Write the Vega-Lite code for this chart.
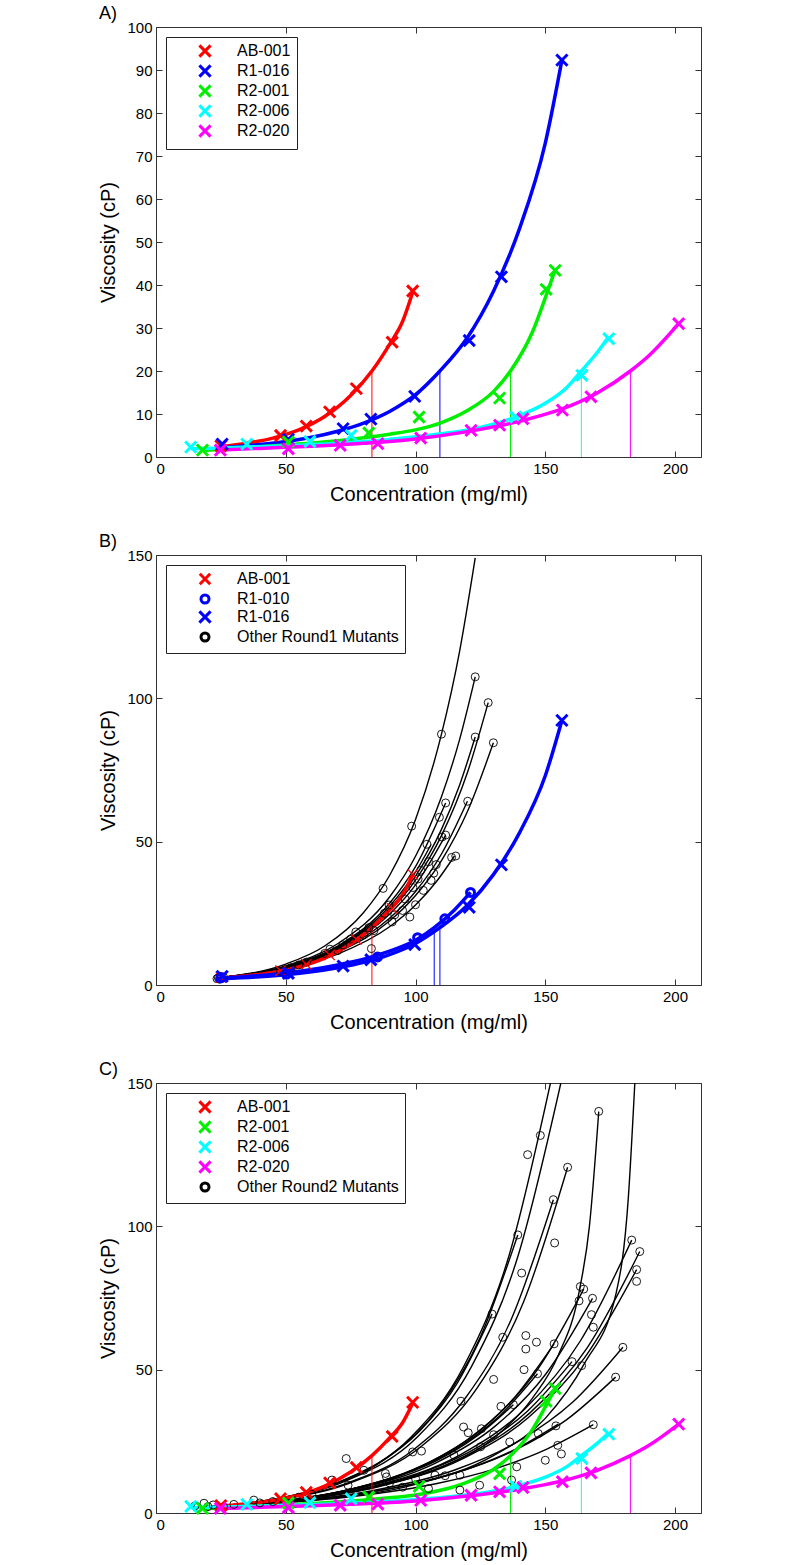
{
"$schema": "https://vega.github.io/schema/vega-lite/v6.json",
"background": "white",
"padding": {"left": 98, "top": 4, "right": 10, "bottom": 5},
"spacing": 27,
"resolve": {"scale": {"color": "independent", "stroke": "independent", "shape": "independent"}, "legend": {"color": "independent", "stroke": "independent", "shape": "independent"}},
"datasets": {
"fits": [
{"s":"AB-001","x":25,"v":2.4},{"s":"AB-001","x":35,"v":3.2},{"s":"AB-001","x":45,"v":4.4},{"s":"AB-001","x":55,"v":6.3},{"s":"AB-001","x":65,"v":9.4},{"s":"AB-001","x":75,"v":14.3},{"s":"AB-001","x":83.2,"v":20},{"s":"AB-001","x":90,"v":26.2},{"s":"AB-001","x":95,"v":31.5},{"s":"AB-001","x":99,"v":38.5},
{"s":"R1-016","x":25,"v":2.2},{"s":"R1-016","x":40,"v":2.9},{"s":"R1-016","x":50,"v":3.6},{"s":"R1-016","x":60,"v":4.6},{"s":"R1-016","x":70,"v":6},{"s":"R1-016","x":80,"v":7.9},{"s":"R1-016","x":90,"v":10.6},{"s":"R1-016","x":100,"v":14.5},{"s":"R1-016","x":109.4,"v":20},{"s":"R1-016","x":120,"v":27.8},{"s":"R1-016","x":130,"v":38.5},{"s":"R1-016","x":140,"v":53},{"s":"R1-016","x":150,"v":73},{"s":"R1-016","x":156.4,"v":92.3},
{"s":"R1-010","x":25,"v":2.3},{"s":"R1-010","x":40,"v":3.3},{"s":"R1-010","x":50,"v":4.2},{"s":"R1-010","x":60,"v":5.4},{"s":"R1-010","x":70,"v":7},{"s":"R1-010","x":80,"v":9},{"s":"R1-010","x":90,"v":11.8},{"s":"R1-010","x":100,"v":15.6},{"s":"R1-010","x":107.2,"v":20},{"s":"R1-010","x":115,"v":26.2},{"s":"R1-010","x":121.2,"v":32.3},
{"s":"R2-001","x":18,"v":1.5},{"s":"R2-001","x":30,"v":2},{"s":"R2-001","x":50,"v":2.8},{"s":"R2-001","x":70,"v":3.8},{"s":"R2-001","x":90,"v":5.3},{"s":"R2-001","x":100,"v":6.3},{"s":"R2-001","x":110,"v":8},{"s":"R2-001","x":120,"v":10.8},{"s":"R2-001","x":130,"v":15.2},{"s":"R2-001","x":136.6,"v":20},{"s":"R2-001","x":145,"v":29},{"s":"R2-001","x":150,"v":37},{"s":"R2-001","x":153.8,"v":43.5},
{"s":"R2-006","x":13.4,"v":1.9},{"s":"R2-006","x":30,"v":2.2},{"s":"R2-006","x":50,"v":2.6},{"s":"R2-006","x":70,"v":3.2},{"s":"R2-006","x":90,"v":4.1},{"s":"R2-006","x":110,"v":5.4},{"s":"R2-006","x":125,"v":6.9},{"s":"R2-006","x":138.6,"v":9.3},{"s":"R2-006","x":150,"v":12.5},{"s":"R2-006","x":158,"v":16},{"s":"R2-006","x":163.9,"v":20},{"s":"R2-006","x":170,"v":24.3},{"s":"R2-006","x":174.5,"v":28},
{"s":"R2-020","x":25,"v":1.6},{"s":"R2-020","x":40,"v":2},{"s":"R2-020","x":60,"v":2.5},{"s":"R2-020","x":80,"v":3.2},{"s":"R2-020","x":100,"v":4.2},{"s":"R2-020","x":120,"v":5.9},{"s":"R2-020","x":140,"v":8.3},{"s":"R2-020","x":160,"v":12},{"s":"R2-020","x":170,"v":14.9},{"s":"R2-020","x":182.8,"v":20},{"s":"R2-020","x":190,"v":23.6},{"s":"R2-020","x":201.4,"v":31}
],
"cross": [
{"s":"AB-001","x":83.2},{"s":"R1-016","x":109.4},{"s":"R1-010","x":107.2},{"s":"R2-001","x":136.6},{"s":"R2-006","x":163.9},{"s":"R2-020","x":182.8}
],
"pts": [
{"s":"Other Round1 Mutants","x":24,"v":2.5},{"s":"Other Round1 Mutants","x":25,"v":3},{"s":"Other Round1 Mutants","x":23.5,"v":2.2},{"s":"Other Round1 Mutants","x":26,"v":2.8},{"s":"Other Round1 Mutants","x":24.5,"v":2},
{"s":"Other Round1 Mutants","x":50,"v":5.5},{"s":"Other Round1 Mutants","x":52,"v":6},{"s":"Other Round1 Mutants","x":48,"v":4.8},{"s":"Other Round1 Mutants","x":55,"v":7},{"s":"Other Round1 Mutants","x":58,"v":8},
{"s":"Other Round1 Mutants","x":65,"v":11},{"s":"Other Round1 Mutants","x":67,"v":12.5},{"s":"Other Round1 Mutants","x":70,"v":12},{"s":"Other Round1 Mutants","x":72,"v":14},{"s":"Other Round1 Mutants","x":75,"v":16},{"s":"Other Round1 Mutants","x":77,"v":18.5},{"s":"Other Round1 Mutants","x":80,"v":17.5},{"s":"Other Round1 Mutants","x":82,"v":20},{"s":"Other Round1 Mutants","x":83,"v":12.7},{"s":"Other Round1 Mutants","x":84,"v":19},
{"s":"Other Round1 Mutants","x":87.5,"v":33.7},{"s":"Other Round1 Mutants","x":89.8,"v":27.9},{"s":"Other Round1 Mutants","x":88,"v":25},{"s":"Other Round1 Mutants","x":91,"v":22},{"s":"Other Round1 Mutants","x":92,"v":24.5},{"s":"Other Round1 Mutants","x":95,"v":26},{"s":"Other Round1 Mutants","x":96,"v":30},{"s":"Other Round1 Mutants","x":97.8,"v":23.7},{"s":"Other Round1 Mutants","x":99,"v":34},{"s":"Other Round1 Mutants","x":100,"v":28},
{"s":"Other Round1 Mutants","x":101,"v":37},{"s":"Other Round1 Mutants","x":102,"v":40},{"s":"Other Round1 Mutants","x":103,"v":33},{"s":"Other Round1 Mutants","x":104.4,"v":49.1},{"s":"Other Round1 Mutants","x":105,"v":43},{"s":"Other Round1 Mutants","x":106,"v":36.5},{"s":"Other Round1 Mutants","x":107,"v":39},{"s":"Other Round1 Mutants","x":108,"v":42},{"s":"Other Round1 Mutants","x":98.5,"v":55.4},
{"s":"Other Round1 Mutants","x":109.2,"v":58.5},{"s":"Other Round1 Mutants","x":110.2,"v":51.6},{"s":"Other Round1 Mutants","x":111.6,"v":52.3},{"s":"Other Round1 Mutants","x":111.6,"v":63.5},{"s":"Other Round1 Mutants","x":113.9,"v":44.5},{"s":"Other Round1 Mutants","x":115.5,"v":45},{"s":"Other Round1 Mutants","x":120.1,"v":64.1},
{"s":"Other Round1 Mutants","x":110,"v":87.5},{"s":"Other Round1 Mutants","x":123,"v":107.5},{"s":"Other Round1 Mutants","x":128,"v":98.5},{"s":"Other Round1 Mutants","x":123,"v":86.5},{"s":"Other Round1 Mutants","x":130,"v":84.5},
{"s":"Other Round2 Mutants","x":170.6,"v":140.1},{"s":"Other Round2 Mutants","x":148.1,"v":131.7},{"s":"Other Round2 Mutants","x":143.2,"v":125},{"s":"Other Round2 Mutants","x":158.6,"v":120.6},{"s":"Other Round2 Mutants","x":153.1,"v":109.3},{"s":"Other Round2 Mutants","x":153.6,"v":94.2},{"s":"Other Round2 Mutants","x":139.4,"v":97},{"s":"Other Round2 Mutants","x":140.9,"v":83.7},{"s":"Other Round2 Mutants","x":183.3,"v":95.2},{"s":"Other Round2 Mutants","x":186.4,"v":91.2},{"s":"Other Round2 Mutants","x":185.2,"v":84.9},{"s":"Other Round2 Mutants","x":185.2,"v":80.8},{"s":"Other Round2 Mutants","x":163.5,"v":79},{"s":"Other Round2 Mutants","x":164.8,"v":78.1},
{"s":"Other Round2 Mutants","x":129.5,"v":69.4},{"s":"Other Round2 Mutants","x":133.6,"v":61.3},{"s":"Other Round2 Mutants","x":142.5,"v":61.9},{"s":"Other Round2 Mutants","x":146.6,"v":59.6},{"s":"Other Round2 Mutants","x":142.5,"v":57.2},{"s":"Other Round2 Mutants","x":153.4,"v":59},{"s":"Other Round2 Mutants","x":141.8,"v":50},{"s":"Other Round2 Mutants","x":147,"v":48.6},{"s":"Other Round2 Mutants","x":130.1,"v":46.6},{"s":"Other Round2 Mutants","x":160.3,"v":52.8},{"s":"Other Round2 Mutants","x":164,"v":51.4},{"s":"Other Round2 Mutants","x":163,"v":74},{"s":"Other Round2 Mutants","x":168.2,"v":74.9},{"s":"Other Round2 Mutants","x":167.8,"v":69.2},{"s":"Other Round2 Mutants","x":168.5,"v":64.8},{"s":"Other Round2 Mutants","x":179.9,"v":57.8},{"s":"Other Round2 Mutants","x":177.1,"v":47.4},
{"s":"Other Round2 Mutants","x":117.5,"v":39},{"s":"Other Round2 Mutants","x":132.9,"v":37.2},{"s":"Other Round2 Mutants","x":137.7,"v":37.8},{"s":"Other Round2 Mutants","x":118.5,"v":30},{"s":"Other Round2 Mutants","x":120.3,"v":28},{"s":"Other Round2 Mutants","x":125.4,"v":29.4},{"s":"Other Round2 Mutants","x":130.1,"v":27.3},{"s":"Other Round2 Mutants","x":147.3,"v":27.7},{"s":"Other Round2 Mutants","x":154.1,"v":30.4},{"s":"Other Round2 Mutants","x":168.5,"v":30.8},{"s":"Other Round2 Mutants","x":136.3,"v":24.8},{"s":"Other Round2 Mutants","x":154.8,"v":23.6},{"s":"Other Round2 Mutants","x":156.2,"v":20.6},{"s":"Other Round2 Mutants","x":150,"v":18.4},{"s":"Other Round2 Mutants","x":125.1,"v":23.1},{"s":"Other Round2 Mutants","x":114.8,"v":20.2},{"s":"Other Round2 Mutants","x":98.9,"v":21.3},{"s":"Other Round2 Mutants","x":102.3,"v":21.6},{"s":"Other Round2 Mutants","x":73.3,"v":19},{"s":"Other Round2 Mutants","x":80.1,"v":14.9},{"s":"Other Round2 Mutants","x":88.4,"v":13.8},{"s":"Other Round2 Mutants","x":88.8,"v":12.6},{"s":"Other Round2 Mutants","x":107.5,"v":13.2},{"s":"Other Round2 Mutants","x":111.4,"v":13},{"s":"Other Round2 Mutants","x":117.1,"v":13.2},{"s":"Other Round2 Mutants","x":124.7,"v":9.7},{"s":"Other Round2 Mutants","x":117.1,"v":8},{"s":"Other Round2 Mutants","x":137,"v":11.5},{"s":"Other Round2 Mutants","x":139,"v":16.1},{"s":"Other Round2 Mutants","x":67.8,"v":11.5},{"s":"Other Round2 Mutants","x":74,"v":9.7},{"s":"Other Round2 Mutants","x":37.7,"v":4.5},{"s":"Other Round2 Mutants","x":15,"v":2.5},{"s":"Other Round2 Mutants","x":18.5,"v":3.4},{"s":"Other Round2 Mutants","x":30,"v":3},{"s":"Other Round2 Mutants","x":22,"v":2.8},{"s":"Other Round2 Mutants","x":26,"v":2.2},{"s":"Other Round2 Mutants","x":45,"v":4},{"s":"Other Round2 Mutants","x":55,"v":5.5},{"s":"Other Round2 Mutants","x":60,"v":6.5},{"s":"Other Round2 Mutants","x":95,"v":9},{"s":"Other Round2 Mutants","x":105,"v":8.5},{"s":"Other Round2 Mutants","x":16,"v":2},{"s":"Other Round2 Mutants","x":20,"v":2.2},{"s":"Other Round2 Mutants","x":40,"v":3.5},{"s":"Other Round2 Mutants","x":90,"v":10.5},{"s":"Other Round2 Mutants","x":100,"v":12},
{"s":"AB-001","x":25,"v":2.6},{"s":"AB-001","x":48,"v":5},{"s":"AB-001","x":57.9,"v":7.2},{"s":"AB-001","x":66.9,"v":10.5},{"s":"AB-001","x":77.2,"v":15.9},{"s":"AB-001","x":91,"v":26.7},{"s":"AB-001","x":98.9,"v":38.6},
{"s":"R1-010","x":25,"v":2.5},{"s":"R1-010","x":50.3,"v":3.8},{"s":"R1-010","x":85.4,"v":9.8},{"s":"R1-010","x":100.8,"v":16.5},{"s":"R1-010","x":111.3,"v":23.1},{"s":"R1-010","x":121.2,"v":32.3},
{"s":"R1-016","x":25.5,"v":3},{"s":"R1-016","x":51,"v":4.1},{"s":"R1-016","x":72.1,"v":6.6},{"s":"R1-016","x":82.8,"v":8.8},{"s":"R1-016","x":99.7,"v":14.1},{"s":"R1-016","x":120.7,"v":27.1},{"s":"R1-016","x":133.1,"v":41.9},{"s":"R1-016","x":156.4,"v":92.3},
{"s":"R2-001","x":17.9,"v":1.6},{"s":"R2-001","x":51,"v":3.5},{"s":"R2-001","x":82,"v":5.6},{"s":"R2-001","x":101.4,"v":9.3},{"s":"R2-001","x":132.4,"v":13.7},{"s":"R2-001","x":150.3,"v":39},{"s":"R2-001","x":153.8,"v":43.4},
{"s":"R2-006","x":13.4,"v":2.3},{"s":"R2-006","x":35,"v":3},{"s":"R2-006","x":59.3,"v":3.6},{"s":"R2-006","x":75.2,"v":5},{"s":"R2-006","x":138.6,"v":9.3},{"s":"R2-006","x":164.1,"v":19},{"s":"R2-006","x":174.5,"v":27.5},
{"s":"R2-020","x":24.8,"v":1.6},{"s":"R2-020","x":51,"v":1.9},{"s":"R2-020","x":71,"v":2.7},{"s":"R2-020","x":85.5,"v":3.1},{"s":"R2-020","x":102,"v":4.4},{"s":"R2-020","x":121.4,"v":6.2},{"s":"R2-020","x":132.4,"v":7.4},{"s":"R2-020","x":141.4,"v":8.9},{"s":"R2-020","x":156.6,"v":10.9},{"s":"R2-020","x":167.6,"v":14},{"s":"R2-020","x":201.4,"v":31}
],
"r1": [
{"id":"b1","x":24,"v":2.5},{"id":"b1","x":50,"v":7.3},{"id":"b1","x":65,"v":13.6},{"id":"b1","x":80,"v":25.3},{"id":"b1","x":90,"v":38.2},{"id":"b1","x":100,"v":57.7},{"id":"b1","x":110,"v":87.5},{"id":"b1","x":117,"v":116.5},{"id":"b1","x":123,"v":149},
{"id":"b2","x":24,"v":2.5},{"id":"b2","x":50,"v":6.7},{"id":"b2","x":70,"v":14.4},{"id":"b2","x":90,"v":30.7},{"id":"b2","x":100,"v":44.9},{"id":"b2","x":110,"v":65.7},{"id":"b2","x":117,"v":85.7},{"id":"b2","x":123,"v":107.5},
{"id":"b3","x":24,"v":2.5},{"id":"b3","x":50,"v":6.3},{"id":"b3","x":70,"v":12.7},{"id":"b3","x":90,"v":25.7},{"id":"b3","x":100,"v":36.6},{"id":"b3","x":110,"v":52.1},{"id":"b3","x":120,"v":74.1},{"id":"b3","x":128,"v":98.5},
{"id":"b4","x":24,"v":2.5},{"id":"b4","x":50,"v":6.3},{"id":"b4","x":70,"v":13},{"id":"b4","x":90,"v":26.6},{"id":"b4","x":100,"v":38},{"id":"b4","x":110,"v":54.3},{"id":"b4","x":117,"v":69.8},{"id":"b4","x":123,"v":86.5},
{"id":"b5","x":24,"v":2.5},{"id":"b5","x":50,"v":5.9},{"id":"b5","x":70,"v":11.5},{"id":"b5","x":90,"v":22.3},{"id":"b5","x":100,"v":31.2},{"id":"b5","x":110,"v":43.4},{"id":"b5","x":120,"v":60.5},{"id":"b5","x":130,"v":84.5},
{"id":"b6","x":24,"v":2.5},{"id":"b6","x":50,"v":6},{"id":"b6","x":70,"v":11.8},{"id":"b6","x":90,"v":23.3},{"id":"b6","x":100,"v":32.6},{"id":"b6","x":110,"v":45.7},{"id":"b6","x":120,"v":64.1},
{"id":"b7","x":24,"v":2.5},{"id":"b7","x":50,"v":6.5},{"id":"b7","x":70,"v":13.6},{"id":"b7","x":90,"v":28.5},{"id":"b7","x":100,"v":41.3},{"id":"b7","x":111.6,"v":63.5},
{"id":"b8","x":24,"v":2.5},{"id":"b8","x":50,"v":5.7},{"id":"b8","x":70,"v":10.8},{"id":"b8","x":90,"v":20.3},{"id":"b8","x":100,"v":27.9},{"id":"b8","x":108,"v":36},{"id":"b8","x":115,"v":45},
{"id":"b9","x":24,"v":2.5},{"id":"b9","x":50,"v":6.2},{"id":"b9","x":70,"v":12.3},{"id":"b9","x":90,"v":24.7},{"id":"b9","x":100,"v":34.9},{"id":"b9","x":111.6,"v":52.3},
{"id":"b10","x":24,"v":2.5},{"id":"b10","x":50,"v":6.4},{"id":"b10","x":70,"v":13.3},{"id":"b10","x":90,"v":27.5},{"id":"b10","x":100,"v":39.4},{"id":"b10","x":106,"v":49}
],
"r2": [
{"id":"c1","x":18,"v":2},{"id":"c1","x":44.8,"v":4.7},{"id":"c1","x":71.6,"v":11.2},{"id":"c1","x":98.4,"v":26.6},{"id":"c1","x":118.5,"v":51},{"id":"c1","x":135.9,"v":89.4},{"id":"c1","x":152,"v":150},
{"id":"c2","x":18,"v":2},{"id":"c2","x":45.6,"v":4.7},{"id":"c2","x":73.2,"v":11.2},{"id":"c2","x":100.8,"v":26.6},{"id":"c2","x":121.5,"v":51},{"id":"c2","x":139.4,"v":89.4},{"id":"c2","x":156,"v":150},
{"id":"c3","x":18,"v":2},{"id":"c3","x":50,"v":4.5},{"id":"c3","x":80,"v":8.5},{"id":"c3","x":110,"v":16},{"id":"c3","x":130,"v":26},{"id":"c3","x":145,"v":40},{"id":"c3","x":155,"v":55},{"id":"c3","x":163,"v":77},{"id":"c3","x":167,"v":100},{"id":"c3","x":170.6,"v":140},
{"id":"c4","x":18,"v":2},{"id":"c4","x":46.1,"v":4.5},{"id":"c4","x":74.2,"v":10.3},{"id":"c4","x":102.4,"v":23.4},{"id":"c4","x":123.5,"v":43.3},{"id":"c4","x":141.7,"v":73.8},{"id":"c4","x":158.6,"v":120.6},
{"id":"c5","x":18,"v":2},{"id":"c5","x":45,"v":4.5},{"id":"c5","x":72,"v":9.9},{"id":"c5","x":99.1,"v":22},{"id":"c5","x":119.3,"v":40.2},{"id":"c5","x":136.9,"v":67.6},{"id":"c5","x":153.1,"v":109.3},
{"id":"c6","x":18,"v":2},{"id":"c6","x":60,"v":4.5},{"id":"c6","x":100,"v":10},{"id":"c6","x":130,"v":20},{"id":"c6","x":150,"v":33},{"id":"c6","x":165,"v":52},{"id":"c6","x":177.3,"v":76.7},{"id":"c6","x":182,"v":110},{"id":"c6","x":184.5,"v":150},
{"id":"c7","x":18,"v":2},{"id":"c7","x":51.1,"v":4.3},{"id":"c7","x":84.1,"v":9.4},{"id":"c7","x":117.2,"v":20.3},{"id":"c7","x":142,"v":36.2},{"id":"c7","x":163.5,"v":60},{"id":"c7","x":183.3,"v":95.2},
{"id":"c8","x":18,"v":2},{"id":"c8","x":51.7,"v":4.3},{"id":"c8","x":85.4,"v":9.2},{"id":"c8","x":119,"v":19.8},{"id":"c8","x":144.3,"v":35.1},{"id":"c8","x":166.2,"v":57.7},{"id":"c8","x":186.4,"v":91.2},
{"id":"c9","x":18,"v":2},{"id":"c9","x":51.4,"v":4.2},{"id":"c9","x":84.9,"v":9},{"id":"c9","x":118.3,"v":19},{"id":"c9","x":143.4,"v":33.2},{"id":"c9","x":165.1,"v":54.1},{"id":"c9","x":185.2,"v":84.9},
{"id":"c10","x":18,"v":2},{"id":"c10","x":50.4,"v":3.9},{"id":"c10","x":82.8,"v":7.7},{"id":"c10","x":115.1,"v":15},{"id":"c10","x":139.4,"v":24.9},{"id":"c10","x":160.5,"v":38.6},{"id":"c10","x":179.9,"v":57.8},
{"id":"c11","x":18,"v":2},{"id":"c11","x":49.8,"v":3.8},{"id":"c11","x":81.6,"v":7.1},{"id":"c11","x":113.5,"v":13.4},{"id":"c11","x":137.3,"v":21.5},{"id":"c11","x":158,"v":32.4},{"id":"c11","x":177.1,"v":47.4},
{"id":"c12","x":18,"v":2},{"id":"c12","x":48.1,"v":3.5},{"id":"c12","x":78.2,"v":6},{"id":"c12","x":108.3,"v":10.3},{"id":"c12","x":130.9,"v":15.5},{"id":"c12","x":150.4,"v":22.2},{"id":"c12","x":168.5,"v":30.8},
{"id":"c13","x":18,"v":2},{"id":"c13","x":47.4,"v":4.2},{"id":"c13","x":76.7,"v":8.7},{"id":"c13","x":106.1,"v":18},{"id":"c13","x":128.1,"v":31.2},{"id":"c13","x":147.2,"v":50.3},{"id":"c13","x":164.8,"v":78.1},
{"id":"c14","x":18,"v":2},{"id":"c14","x":48,"v":4.1},{"id":"c14","x":78.1,"v":8.5},{"id":"c14","x":108.1,"v":17.6},{"id":"c14","x":130.7,"v":30.3},{"id":"c14","x":150.2,"v":48.5},{"id":"c14","x":168.2,"v":74.9},
{"id":"c15","x":18,"v":2},{"id":"c15","x":42.3,"v":4.3},{"id":"c15","x":66.6,"v":9.5},{"id":"c15","x":90.8,"v":20.5},{"id":"c15","x":109.1,"v":36.8},{"id":"c15","x":124.8,"v":61},{"id":"c15","x":139.4,"v":97},
{"id":"c16","x":18,"v":2},{"id":"c16","x":46.5,"v":3.9},{"id":"c16","x":74.9,"v":7.4},{"id":"c16","x":103.4,"v":14.3},{"id":"c16","x":124.7,"v":23.3},{"id":"c16","x":143.2,"v":35.6},{"id":"c16","x":160.3,"v":52.8},
{"id":"c17","x":18,"v":2},{"id":"c17","x":45.1,"v":3.9},{"id":"c17","x":72.2,"v":7.7},{"id":"c17","x":99.2,"v":15.2},{"id":"c17","x":119.6,"v":25.3},{"id":"c17","x":137.2,"v":39.3},{"id":"c17","x":153.4,"v":59},
{"id":"c18","x":18,"v":2},{"id":"c18","x":41.9,"v":3.6},{"id":"c18","x":65.9,"v":6.5},{"id":"c18","x":89.8,"v":11.7},{"id":"c18","x":107.8,"v":18.1},{"id":"c18","x":123.3,"v":26.6},{"id":"c18","x":137.7,"v":37.8},
{"id":"c19","x":18,"v":2},{"id":"c19","x":40.3,"v":4.1},{"id":"c19","x":62.6,"v":8.3},{"id":"c19","x":84.9,"v":16.8},{"id":"c19","x":101.6,"v":28.6},{"id":"c19","x":116.1,"v":45.3},{"id":"c19","x":129.5,"v":69.4},
{"id":"c20","x":18,"v":2},{"id":"c20","x":43.8,"v":3.8},{"id":"c20","x":69.6,"v":7.2},{"id":"c20","x":95.4,"v":13.6},{"id":"c20","x":114.8,"v":21.9},{"id":"c20","x":131.5,"v":33.1},{"id":"c20","x":147,"v":48.6},
{"id":"c21","x":18,"v":2},{"id":"c21","x":45.4,"v":3.5},{"id":"c21","x":72.8,"v":6},{"id":"c21","x":100.2,"v":10.4},{"id":"c21","x":120.8,"v":15.6},{"id":"c21","x":138.6,"v":22.3},{"id":"c21","x":155,"v":31}
]
},
"vconcat": [
{
"title": {"text": "A)"},
"width": 545, "height": 430,
"resolve": {"axis": {"x": "independent", "y": "independent"}},
"layer": [
{"mark": {"type": "rule", "strokeDash": [1.5, 1.5], "color": "#333", "strokeWidth": 1},
 "encoding": {"y": {"datum": 20, "type": "quantitative", "scale": {"domain": [0, 100], "nice": false}, "axis": null}}},
{"data": {"name": "cross"}, "transform": [{"filter": {"field": "s", "oneOf": ["AB-001","R1-016","R2-001","R2-006","R2-020"]}}],
 "mark": {"type": "rule", "strokeWidth": 1},
 "encoding": {
  "x": {"field": "x", "type": "quantitative", "scale": {"domain": [0, 210], "nice": false}, "axis": {"orient": "top", "labels": false, "title": null, "values": [0,50,100,150,200], "labelPadding": 0}},
  "y": {"datum": 0, "type": "quantitative", "axis": {"orient": "right", "labels": false, "title": null, "values": [0,10,20,30,40,50,60,70,80,90,100], "labelPadding": 0}},
  "y2": {"datum": 20},
  "stroke": {"field": "s", "type": "nominal", "legend": null, "scale": {"domain": ["R2-020","R2-006","R2-001","R1-016","AB-001"], "range": ["#ff00ff","#00ffff","#00ee00","#0000ff","#ff0000"]}}}},
{"data": {"name": "fits"}, "transform": [{"filter": {"field": "s", "oneOf": ["AB-001","R1-016","R2-001","R2-006","R2-020"]}}],
 "mark": {"type": "line", "strokeWidth": 3.5, "interpolate": "monotone"},
 "encoding": {
  "x": {"field": "x", "type": "quantitative", "axis": {"orient": "bottom", "title": "Concentration (mg/ml)", "values": [0,50,100,150,200]}},
  "y": {"field": "v", "type": "quantitative", "axis": {"orient": "left", "title": "Viscosity (cP)", "values": [0,10,20,30,40,50,60,70,80,90,100]}},
  "stroke": {"field": "s", "type": "nominal", "legend": null, "scale": {"domain": ["R2-020","R2-006","R2-001","R1-016","AB-001"], "range": ["#ff00ff","#00ffff","#00ee00","#0000ff","#ff0000"]}}}},
{"data": {"name": "pts"}, "transform": [{"filter": {"field": "s", "oneOf": ["AB-001","R1-016","R2-001","R2-006","R2-020"]}}],
 "mark": {"type": "point", "filled": false, "opacity": 1, "size": 64, "strokeWidth": 3},
 "encoding": {
  "x": {"field": "x", "type": "quantitative", "axis": null},
  "y": {"field": "v", "type": "quantitative", "axis": null},
  "color": {"field": "s", "type": "nominal", "title": null, "legend": {"orient": "top-left", "symbolStrokeWidth": 3}, "scale": {"domain": ["AB-001","R1-016","R2-001","R2-006","R2-020"], "range": ["#ff0000","#0000ff","#00ee00","#00ffff","#ff00ff"]}},
  "shape": {"field": "s", "type": "nominal", "scale": {"domain": ["AB-001","R1-016","R2-001","R2-006","R2-020"], "range": ["M-1.4,-1.4L1.4,1.4M-1.4,1.4L1.4,-1.4","M-1.4,-1.4L1.4,1.4M-1.4,1.4L1.4,-1.4","M-1.4,-1.4L1.4,1.4M-1.4,1.4L1.4,-1.4","M-1.4,-1.4L1.4,1.4M-1.4,1.4L1.4,-1.4","M-1.4,-1.4L1.4,1.4M-1.4,1.4L1.4,-1.4"]}, "title": null}}}
]
},
{
"title": {"text": "B)"},
"width": 545, "height": 430,
"resolve": {"axis": {"x": "independent", "y": "independent"}},
"layer": [
{"mark": {"type": "rule", "strokeDash": [1.5, 1.5], "color": "#333", "strokeWidth": 1},
 "encoding": {"y": {"datum": 20, "type": "quantitative", "scale": {"domain": [0, 150], "nice": false}, "axis": null}}},
{"data": {"name": "r1"},
 "mark": {"type": "line", "strokeWidth": 1.4, "color": "black", "interpolate": "monotone", "clip": true},
 "encoding": {
  "x": {"field": "x", "type": "quantitative", "scale": {"domain": [0, 210], "nice": false}, "axis": {"orient": "bottom", "title": "Concentration (mg/ml)", "values": [0,50,100,150,200]}},
  "y": {"field": "v", "type": "quantitative", "axis": {"orient": "left", "title": "Viscosity (cP)", "values": [0,50,100,150]}},
  "detail": {"field": "id", "type": "nominal"}}},
{"data": {"name": "cross"}, "transform": [{"filter": {"field": "s", "oneOf": ["AB-001","R1-010","R1-016"]}}],
 "mark": {"type": "rule", "strokeWidth": 1},
 "encoding": {
  "x": {"field": "x", "type": "quantitative", "axis": {"orient": "top", "labels": false, "title": null, "values": [0,50,100,150,200], "labelPadding": 0}},
  "y": {"datum": 0, "type": "quantitative", "axis": {"orient": "right", "labels": false, "title": null, "values": [0,50,100,150], "labelPadding": 0}},
  "y2": {"datum": 20},
  "stroke": {"field": "s", "type": "nominal", "legend": null, "scale": {"domain": ["R1-016","R1-010","AB-001"], "range": ["#0000ff","#0000ff","#ff0000"]}}}},
{"data": {"name": "fits"}, "transform": [{"filter": {"field": "s", "oneOf": ["AB-001","R1-010","R1-016"]}}],
 "mark": {"type": "line", "strokeWidth": 3.5, "interpolate": "monotone"},
 "encoding": {
  "x": {"field": "x", "type": "quantitative", "axis": null},
  "y": {"field": "v", "type": "quantitative", "axis": null},
  "stroke": {"field": "s", "type": "nominal", "legend": null, "scale": {"domain": ["R1-016","R1-010","AB-001"], "range": ["#0000ff","#0000ff","#ff0000"]}}}},
{"data": {"name": "pts"}, "transform": [{"filter": {"field": "s", "oneOf": ["AB-001","R1-010","R1-016","Other Round1 Mutants"]}}],
 "mark": {"type": "point", "filled": false, "opacity": 1, "size": 64},
 "encoding": {
  "x": {"field": "x", "type": "quantitative", "axis": null},
  "y": {"field": "v", "type": "quantitative", "axis": null},
  "color": {"field": "s", "type": "nominal", "title": null, "legend": {"orient": "top-left", "symbolStrokeWidth": 3}, "scale": {"domain": ["AB-001","R1-010","R1-016","Other Round1 Mutants"], "range": ["#ff0000","#0000ff","#0000ff","#000000"]}},
  "shape": {"field": "s", "type": "nominal", "scale": {"domain": ["AB-001","R1-010","R1-016","Other Round1 Mutants"], "range": ["M-1.3,-1.3L1.3,1.3M-1.3,1.3L1.3,-1.3","circle","M-1.4,-1.4L1.4,1.4M-1.4,1.4L1.4,-1.4","circle"]}, "title": null},
  "strokeWidth": {"condition": [{"test": "datum.s === 'AB-001'", "value": 1.3}, {"test": "datum.s === 'Other Round1 Mutants'", "value": 0.9}], "value": 3}}}
]
},
{
"title": {"text": "C)"},
"width": 545, "height": 430,
"resolve": {"axis": {"x": "independent", "y": "independent"}},
"layer": [
{"mark": {"type": "rule", "strokeDash": [1.5, 1.5], "color": "#333", "strokeWidth": 1},
 "encoding": {"y": {"datum": 20, "type": "quantitative", "scale": {"domain": [0, 150], "nice": false}, "axis": null}}},
{"data": {"name": "r2"},
 "mark": {"type": "line", "strokeWidth": 1.4, "color": "black", "interpolate": "monotone", "clip": true},
 "encoding": {
  "x": {"field": "x", "type": "quantitative", "scale": {"domain": [0, 210], "nice": false}, "axis": {"orient": "bottom", "title": "Concentration (mg/ml)", "values": [0,50,100,150,200]}},
  "y": {"field": "v", "type": "quantitative", "axis": {"orient": "left", "title": "Viscosity (cP)", "values": [0,50,100,150]}},
  "detail": {"field": "id", "type": "nominal"}}},
{"data": {"name": "cross"}, "transform": [{"filter": {"field": "s", "oneOf": ["AB-001","R2-001","R2-006","R2-020"]}}],
 "mark": {"type": "rule", "strokeWidth": 1},
 "encoding": {
  "x": {"field": "x", "type": "quantitative", "axis": {"orient": "top", "labels": false, "title": null, "values": [0,50,100,150,200], "labelPadding": 0}},
  "y": {"datum": 0, "type": "quantitative", "axis": {"orient": "right", "labels": false, "title": null, "values": [0,50,100,150], "labelPadding": 0}},
  "y2": {"datum": 20},
  "stroke": {"field": "s", "type": "nominal", "legend": null, "scale": {"domain": ["R2-020","R2-006","R2-001","AB-001"], "range": ["#ff00ff","#00ffff","#00ee00","#ff0000"]}}}},
{"data": {"name": "fits"}, "transform": [{"filter": {"field": "s", "oneOf": ["AB-001","R2-001","R2-006","R2-020"]}}],
 "mark": {"type": "line", "strokeWidth": 3.5, "interpolate": "monotone"},
 "encoding": {
  "x": {"field": "x", "type": "quantitative", "axis": null},
  "y": {"field": "v", "type": "quantitative", "axis": null},
  "stroke": {"field": "s", "type": "nominal", "legend": null, "scale": {"domain": ["R2-020","R2-006","R2-001","AB-001"], "range": ["#ff00ff","#00ffff","#00ee00","#ff0000"]}}}},
{"data": {"name": "pts"}, "transform": [{"filter": {"field": "s", "oneOf": ["AB-001","R2-001","R2-006","R2-020","Other Round2 Mutants"]}}],
 "mark": {"type": "point", "filled": false, "opacity": 1, "size": 64},
 "encoding": {
  "x": {"field": "x", "type": "quantitative", "axis": null},
  "y": {"field": "v", "type": "quantitative", "axis": null},
  "color": {"field": "s", "type": "nominal", "title": null, "legend": {"orient": "top-left", "symbolStrokeWidth": 3}, "scale": {"domain": ["AB-001","R2-001","R2-006","R2-020","Other Round2 Mutants"], "range": ["#ff0000","#00ee00","#00ffff","#ff00ff","#000000"]}},
  "shape": {"field": "s", "type": "nominal", "scale": {"domain": ["AB-001","R2-001","R2-006","R2-020","Other Round2 Mutants"], "range": ["M-1.4,-1.4L1.4,1.4M-1.4,1.4L1.4,-1.4","M-1.4,-1.4L1.4,1.4M-1.4,1.4L1.4,-1.4","M-1.4,-1.4L1.4,1.4M-1.4,1.4L1.4,-1.4","M-1.4,-1.4L1.4,1.4M-1.4,1.4L1.4,-1.4","circle"]}, "title": null},
  "strokeWidth": {"condition": {"test": "datum.s === 'Other Round2 Mutants'", "value": 0.9}, "value": 3}}}
]
}
],
"config": {
 "font": "Liberation Sans",
 "view": {"stroke": "#333", "strokeWidth": 1},
 "axis": {"grid": false, "domain": false, "labelFontSize": 15, "labelColor": "#000", "titleFontSize": 20, "titleFontWeight": "normal", "titleColor": "#000", "tickColor": "#333", "tickSize": -6, "labelPadding": 10, "titlePadding": 8},
 "legend": {"strokeColor": "#222", "fillColor": "white", "padding": 6, "offset": 10, "labelFontSize": 16, "labelColor": "#000", "labelLimit": 400, "rowPadding": -6, "symbolOffset": 25, "labelOffset": 24, "symbolSize": 64},
 "title": {"fontSize": 18, "fontWeight": "normal", "anchor": "start", "frame": "bounds", "offset": -3, "color": "#000"}
}
}
